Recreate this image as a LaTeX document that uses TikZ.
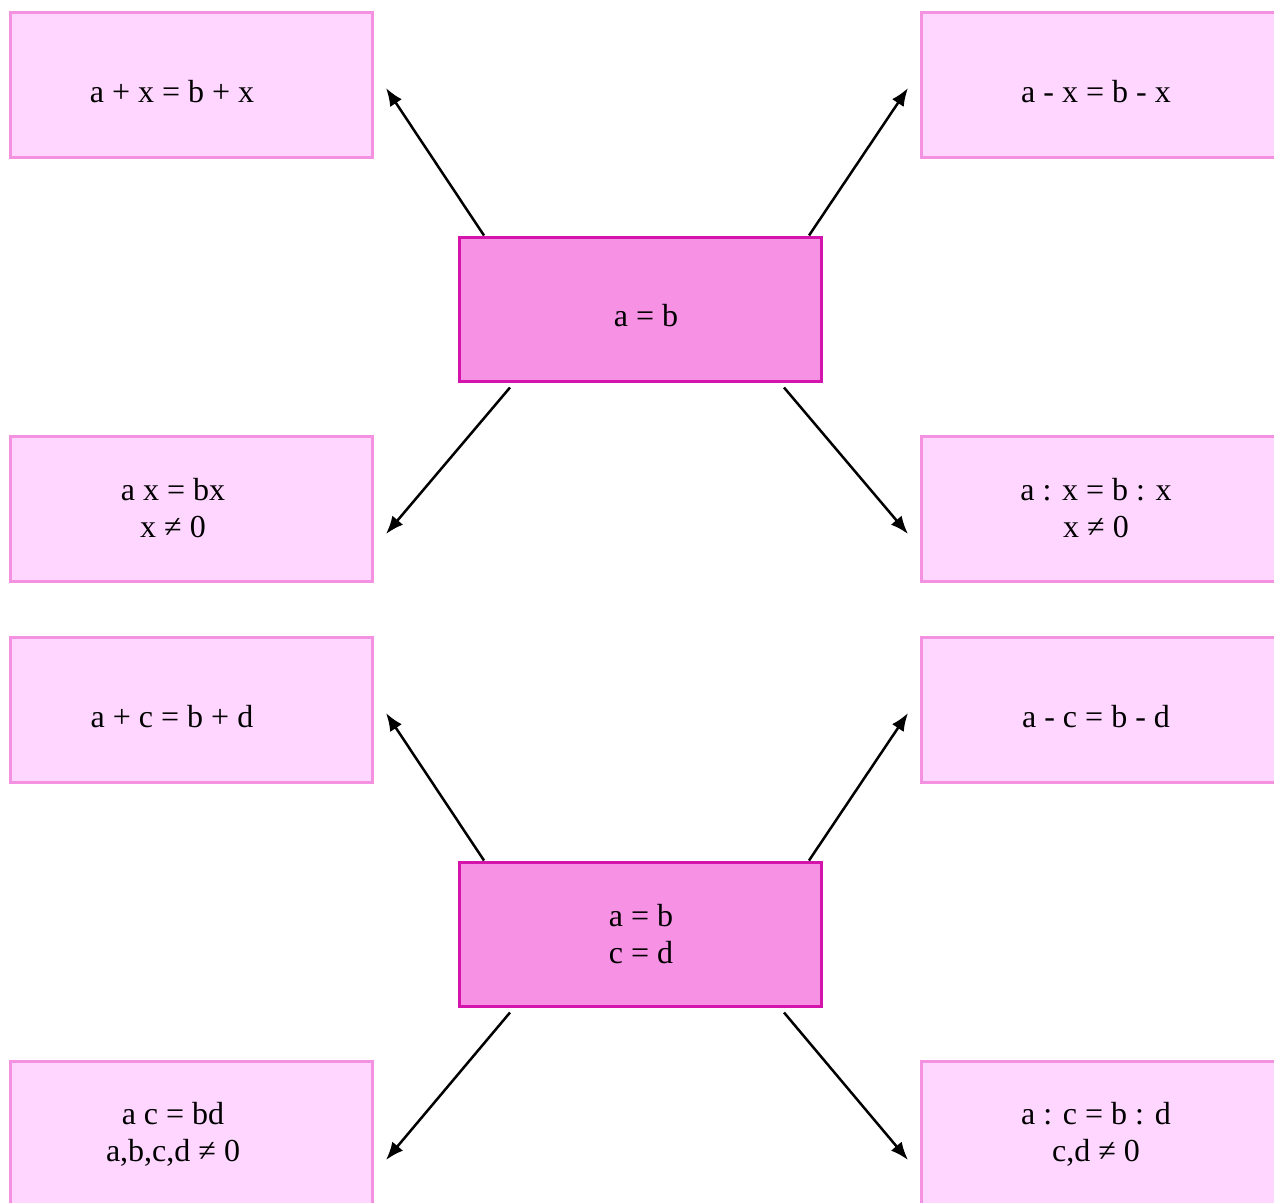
\documentclass[tikz,border=0pt]{standalone}
\usepackage{fontspec}
\setmainfont{Liberation Serif}
\usetikzlibrary{arrows.meta}
\definecolor{lightfill}{RGB}{255,214,255}
\definecolor{lightedge}{RGB}{245,145,225}
\definecolor{mainfill}{RGB}{246,145,228}
\definecolor{mainedge}{RGB}{212,20,170}
\tikzset{
  leaf/.style={draw=lightedge, fill=lightfill, line width=3pt, minimum width=362pt, minimum height=145pt, inner sep=0pt},
  hub/.style={draw=mainedge, fill=mainfill, line width=3pt, minimum width=362pt, minimum height=144pt, inner sep=0pt},
  lbl/.style={font=\fontsize{32}{37}\selectfont, align=center, inner sep=0pt},
  link/.style={line width=2.5pt, -{Latex[length=18pt,width=14pt]}},
}
\begin{document}
\begin{tikzpicture}[x=1pt,y=-1pt]
\useasboundingbox (0,0) rectangle (1274,1202);
% upper group
\node[hub]  (h1) at (640,309) {};
\node[leaf] (p1) at (191,84.5) {};
\node[leaf] (m1) at (1102,84.5) {};
\node[leaf] (t1) at (191,508.5) {};
\node[leaf] (d1) at (1102,508.5) {};
\node[lbl] (h1t) at (646,316) {a = b};
\node[lbl] (p1t) at (172,92) {a + x = b + x};
\node[lbl] (m1t) at (1096,92) {a - x = b - x};
\node[lbl] (t1t) at (173,508.5) {a x = bx\\x ≠ 0};
\node[lbl] (d1t) at (1096,508.5) {a : x = b : x\\x ≠ 0};
% lower group
\node[hub]  (h2) at (640,934) {};
\node[leaf] (p2) at (191,709.5) {};
\node[leaf] (m2) at (1102,709.5) {};
\node[leaf] (t2) at (191,1134) {};
\node[leaf] (d2) at (1102,1134) {};
\node[lbl] (h2t) at (641,934) {a = b\\c = d};
\node[lbl] (p2t) at (172,717) {a + c = b + d};
\node[lbl] (m2t) at (1096,717) {a - c = b - d};
\node[lbl] (t2t) at (173,1134) {a c = bd\\a,b,c,d ≠ 0};
\node[lbl] (d2t) at (1096,1134) {a : c = b : d\\c,d ≠ 0};
% arrow end points
\coordinate (a1) at (386,88);   \coordinate (b1) at (908,88);
\coordinate (c1) at (386,534);  \coordinate (e1) at (908,534);
\coordinate (a2) at (386,713);  \coordinate (b2) at (908,713);
\coordinate (c2) at (386,1160); \coordinate (e2) at (908,1160);
% arrows out of each hub
\draw[link] ([xshift=-156pt]h1.north) -- (a1);
\draw[link] ([xshift=169pt]h1.north) -- (b1);
\draw[link] ([xshift=-130pt,yshift=-5pt]h1.south) -- (c1);
\draw[link] ([xshift=144pt,yshift=-5pt]h1.south) -- (e1);
\draw[link] ([xshift=-156pt]h2.north) -- (a2);
\draw[link] ([xshift=169pt]h2.north) -- (b2);
\draw[link] ([xshift=-130pt,yshift=-5pt]h2.south) -- (c2);
\draw[link] ([xshift=144pt,yshift=-5pt]h2.south) -- (e2);
\end{tikzpicture}
\end{document}
